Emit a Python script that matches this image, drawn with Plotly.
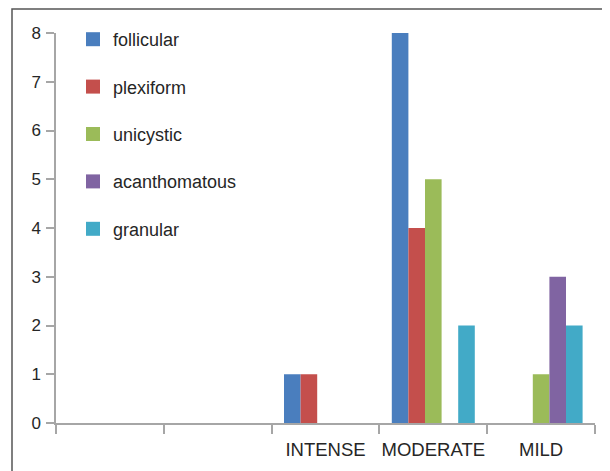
import plotly.graph_objects as go

categories = [" ", "  ", "INTENSE", "MODERATE", "MILD"]
series_names = ["follicular", "plexiform", "unicystic", "acanthomatous", "granular"]
follicular = [0, 0, 1, 8, 0]
plexiform = [0, 0, 1, 4, 0]
unicystic = [0, 0, 0, 5, 1]
acanthomatous = [0, 0, 0, 0, 3]
granular = [0, 0, 0, 2, 2]
values = [follicular, plexiform, unicystic, acanthomatous, granular]
colors = ["#4A7EBE", "#C44F4C", "#9BBB59", "#8064A2", "#42AAC7"]

fig = go.Figure()
for name, vals, col in zip(series_names, values, colors):
    fig.add_trace(go.Bar(x=categories, y=vals, name=name, marker_color=col,
                         marker_line_width=0, legendgroup=name, showlegend=False))
    # legend-only entry with a larger square swatch
    fig.add_trace(go.Scatter(x=[None], y=[None], mode="markers", name=name,
                             marker=dict(symbol="square", size=14, color=col),
                             legendgroup=name, showlegend=True))

# page body has an 8px margin; figure coordinates are offset accordingly
OFF = 8
W, H = 602, 463
ml, mt = 56 - OFF, 33 - OFF
pw, ph = 539, 390
mr, mb = W - ml - pw, H - mt - ph

def px_x(x):
    return (x - OFF - ml) / pw

def px_y(y):
    return (mt + ph - (y - OFF)) / ph

fig.update_layout(
    width=W, height=H,
    margin=dict(l=ml, r=mr, t=mt, b=mb, pad=0, autoexpand=False),
    paper_bgcolor="white", plot_bgcolor="white",
    barmode="group", bargap=0.23, bargroupgap=0,
    font=dict(family="Liberation Sans, Arial, sans-serif", size=18, color="#262626"),
    showlegend=True,
    legend=dict(x=px_x(73), y=px_y(21), xanchor="left", yanchor="top",
                traceorder="grouped", tracegroupgap=21,
                font=dict(size=18, color="#262626"), bgcolor="rgba(0,0,0,0)",
                itemwidth=30),
    xaxis=dict(type="category", showline=True, linecolor="#A6A6A6", linewidth=1.5,
               ticks="outside", tickson="boundaries", ticklen=9, tickcolor="#A6A6A6",
               tickwidth=1.5, showgrid=False, zeroline=False, ticklabelstandoff=9,
               tickangle=0, automargin=False,
               tickfont=dict(size=18.5, color="#262626")),
    yaxis=dict(range=[0, 8], dtick=1, showline=True, linecolor="#A6A6A6", linewidth=1.5,
               ticks="outside", ticklen=8, tickcolor="#A6A6A6", tickwidth=1.5,
               showgrid=False, zeroline=False, ticklabelstandoff=2, automargin=False,
               tickfont=dict(size=17, color="#262626")),
    shapes=[dict(type="rect", xref="paper", yref="paper",
                 x0=px_x(12), x1=px_x(640), y0=px_y(500), y1=px_y(9),
                 line=dict(color="#555", width=1.5), fillcolor="rgba(0,0,0,0)",
                 layer="below")],
)

fig.write_html("out.html")
